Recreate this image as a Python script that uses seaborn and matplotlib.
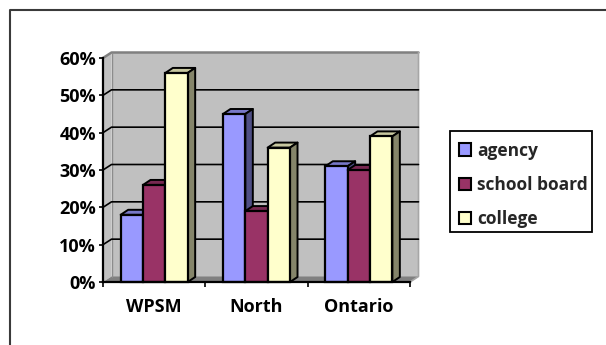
import matplotlib
matplotlib.use("Agg")
import matplotlib.pyplot as plt
import pandas as pd
import seaborn as sns
from matplotlib.colors import to_hex
from matplotlib.lines import Line2D
from matplotlib.patches import Patch, Polygon, Rectangle

regions = ["WPSM", "North", "Ontario"]
providers = ["agency", "school board", "college"]
agency = [0.18, 0.45, 0.31]
school_board = [0.26, 0.19, 0.30]
college = [0.56, 0.36, 0.39]
yticks = [0, 0.1, 0.2, 0.3, 0.4, 0.5, 0.6]
ytick_labels = ["0%", "10%", "20%", "30%", "40%", "50%", "60%"]

front_colors = ["#9999FF", "#993366", "#FFFFCC"]
side_colors = ["#4F4F85", "#4F1A35", "#85856A"]
top_colors = ["#7777C7", "#772850", "#C7C79F"]

W, H = 606, 345
DPI = 100
sns.set_theme(style="white")
plt.rcParams["font.family"] = ["Open Sans", "DejaVu Sans"]

frame = pd.DataFrame({
    "region": regions * 3,
    "provider": [p for p in providers for _ in regions],
    "share": agency + school_board + college,
})

fig = plt.figure(figsize=(W / DPI, H / DPI), dpi=DPI, facecolor="white")
L, R, B, T = 103, 410, 282, 58
ax = fig.add_axes([L / W, 1 - B / H, (R - L) / W, (B - T) / H], zorder=1)
ax.patch.set_alpha(0)

sns.barplot(
    data=frame, x="region", y="share", hue="provider", order=regions,
    hue_order=providers, palette=front_colors, saturation=1, width=0.655,
    gap=0, edgecolor="black", linewidth=1.6, legend=False, ax=ax,
)
ax.set_xlim(-0.5, 2.5)
ax.set_ylim(0, 0.6)
to_disp = ax.transData.transform

# Back wall, side wall and floor of the 3-D box
WX, WY = 8.5, 5.5
(x0, y0), (x1, y1) = to_disp((-0.5, 0)), to_disp((2.5, 0.6))
fig.add_artist(Polygon([(x0, y0), (x0 + WX, y0 + WY), (x0 + WX, y1 + WY), (x0, y1)],
                       closed=True, fc="#C0C0C0", ec="none", transform=None, zorder=0.1))
fig.add_artist(Rectangle((x0 + WX, y0 + WY), x1 - x0, y1 - y0, fc="#C0C0C0",
                         ec="none", transform=None, zorder=0.1))
fig.add_artist(Polygon([(x0, y0), (x0 + WX, y0 + WY), (x1 + WX, y0 + WY), (x1, y0)],
                       closed=True, fc="#808080", ec="none", transform=None, zorder=0.2))
fig.add_artist(Line2D([x0, x0 + WX, x1 + WX], [y1, y1 + WY, y1 + WY],
                      color="#808080", lw=1.8, transform=None, zorder=0.3))
fig.add_artist(Line2D([x1 + WX, x1 + WX, x1], [y1 + WY, y0 + WY, y0],
                      color="#A6A6A6", lw=1.2, transform=None, zorder=0.3))
fig.add_artist(Line2D([x0 + WX, x0 + WX], [y0 + WY, y1 + WY], color="#8C8C8C", lw=1.0,
                      transform=None, zorder=0.3))

# Gridlines run across the back wall and fold down the side wall
for v in yticks[1:-1]:
    _, yy = to_disp((0, v))
    fig.add_artist(Line2D([x0, x0 + WX, x1 + WX], [yy, yy + WY, yy + WY], color="black",
                          lw=1.2, transform=None, zorder=0.4))

# Extrude every bar with a top and a side face
DX, DY = 7.5, 5
for patch in list(ax.patches):
    i = front_colors.index(to_hex(patch.get_facecolor()).upper())
    bx, bw, bh = patch.get_x(), patch.get_width(), patch.get_height()
    (px0, py0), (px1, py1) = to_disp((bx, 0)), to_disp((bx + bw, bh))
    for corners, fill in (
        ([(px0, py1), (px0 + DX, py1 + DY), (px1 + DX, py1 + DY), (px1, py1)], top_colors[i]),
        ([(px1, py0), (px1 + DX, py0 + DY), (px1 + DX, py1 + DY), (px1, py1)], side_colors[i]),
    ):
        ax.add_artist(Polygon(corners, closed=True, fc=fill, ec="black", lw=1.4,
                              joinstyle="round", transform=None, clip_on=False,
                              zorder=3 + i))
    patch.set_zorder(3.5 + i)
    patch.set_clip_on(False)

ax.set_xlabel("")
ax.set_ylabel("")
ax.set_yticks(yticks, ytick_labels, fontsize=13, fontweight="bold", color="black")
ax.set_xticks([-0.5, 0.5, 1.5, 2.5], ["", "", "", ""])
ax.tick_params(axis="x", length=3.6, width=1.2, color="black", bottom=True)
ax.tick_params(axis="y", length=3.2, width=1.2, color="black", left=True, pad=2)
for i, name in enumerate(regions):
    ax.text(i, -0.068, name, ha="center", va="center", fontsize=13,
            fontweight="bold", color="black", clip_on=False)
for s in ("top", "right"):
    ax.spines[s].set_visible(False)
for s in ("left", "bottom"):
    ax.spines[s].set_color("black")
    ax.spines[s].set_linewidth(1.6)
    ax.spines[s].set_zorder(20)

# Legend entries inside a separately sized box
fig.add_artist(Rectangle((450, H - 232), 142, 101, fc="white", ec="black", lw=1.3,
                         transform=None, zorder=0.5))
legend_handles = [Patch(fc=c, ec="black", lw=1.5, label=n) for c, n in zip(front_colors, providers)]
leg = fig.legend(
    handles=legend_handles, loc="upper left",
    bbox_to_anchor=(450 / W, 1 - 133 / H), frameon=False,
    borderpad=0.5, handlelength=0.72, handleheight=0.72,
    handletextpad=0.36, labelspacing=0.93, borderaxespad=0,
    prop={"size": 12.5, "weight": "bold"},
)
leg.set_zorder(2)

# Outer chart frame: top and left rules running off the canvas
fig.add_artist(Line2D([9.5, 9.5, W], [0, H - 9.5, H - 9.5], color="#3A3A3A", lw=1.5,
                      transform=None, zorder=0.05))

fig.savefig("out.png", dpi=DPI)
